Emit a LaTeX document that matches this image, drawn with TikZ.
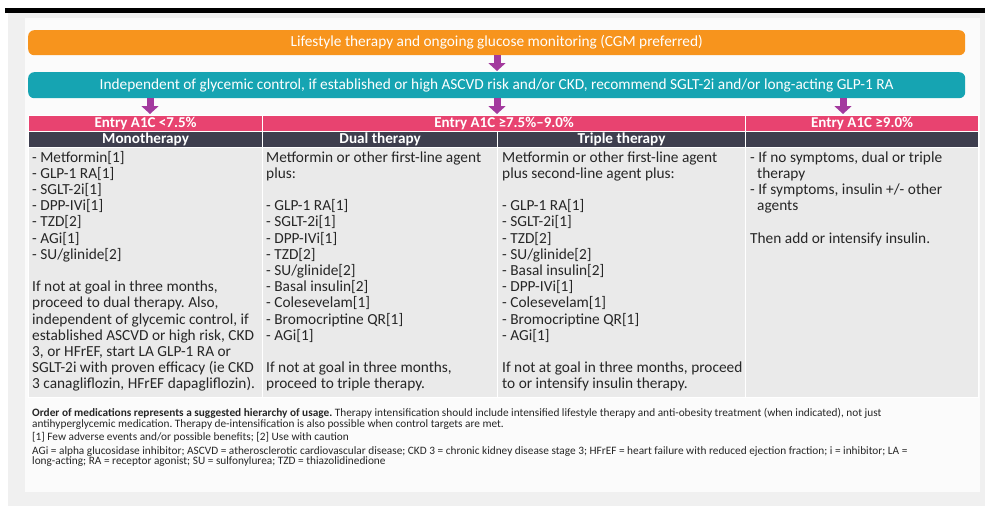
\documentclass[tikz,border=0pt]{standalone}
\usepackage{fontspec}
\setmainfont{Carlito}
\usetikzlibrary{arrows.meta}
\frenchspacing
\definecolor{orng}{RGB}{247,148,29}
\definecolor{tealb}{RGB}{22,164,178}
\definecolor{pinkh}{RGB}{232,67,112}
\definecolor{darkh}{RGB}{62,62,78}
\definecolor{cellbg}{RGB}{234,234,234}
\definecolor{arrowc}{RGB}{163,58,158}
\definecolor{outerbg}{RGB}{240,240,240}
\definecolor{panelbg}{RGB}{251,251,251}
\tikzset{
  bigfont/.style={font=\fontsize{15.35}{16.2}\selectfont\frenchspacing},
  bar/.style={anchor=north west, inner sep=0pt, rounded corners=6pt, text=white, font=\fontsize{15.35}{16}\selectfont},
  cellbox/.style={anchor=north west, inner sep=0pt, draw=white, line width=1.2pt},
  pinkcell/.style={cellbox, fill=pinkh, minimum height=16pt, text=white, font=\fontsize{15}{16}\selectfont\bfseries},
  darkcell/.style={cellbox, fill=darkh, minimum height=16pt, text=white, font=\fontsize{15.2}{16}\selectfont\bfseries},
  bodycell/.style={cellbox, fill=cellbg, minimum height=250pt},
  coltext/.style={anchor=base west, inner sep=0pt, align=left, text width=400pt, bigfont, text=black!85,
    execute at begin node={\spaceskip=0pt\xspaceskip=0pt}},
  foot/.style={anchor=base west, inner sep=0pt, align=left, text width=960pt, font=\fontsize{11.3}{10.4}\selectfont\frenchspacing, text=black!85,
    execute at begin node={\spaceskip=0pt\xspaceskip=0pt}},
  flowarrow/.style={draw=arrowc, line width=7pt, -{Triangle[width=17pt,length=8pt]}, shorten >=1pt},
}
\begin{document}
\begin{tikzpicture}[x=1pt,y=-1pt]
\useasboundingbox (0,0) rectangle (985,506);
\fill[white] (0,0) rectangle (985,506);
\fill[outerbg] (8,12) rectangle (985,506);
\fill[panelbg] (25,18) rectangle (980,492);
\fill[black] (5,8) rectangle (985,12.5);

% top bars
\node[bar, fill=orng, minimum width=937pt, minimum height=25pt] (life) at (28,30)
  {Lifestyle therapy and ongoing glucose monitoring (CGM preferred)};
\node[bar, fill=tealb, minimum width=937pt, minimum height=26pt] (indep) at (28,72)
  {Independent of glycemic control, if established or high ASCVD risk and/or CKD, recommend SGLT-2i and/or long-acting GLP-1 RA};

% entry row
\node[pinkcell, minimum width=234pt] (e1) at (28,115) {Entry A1C <7.5\%};
\node[pinkcell, minimum width=483pt] (e2) at (262,115) {Entry A1C ≥7.5\%–9.0\%};
\node[pinkcell, minimum width=233pt] (e3) at (745,115) {Entry A1C ≥9.0\%};

% therapy row
\node[darkcell, minimum width=234pt] (m1) at (28,131) {Monotherapy};
\node[darkcell, minimum width=235pt] (m2) at (262,131) {Dual therapy};
\node[darkcell, minimum width=248pt] (m3) at (497,131) {Triple therapy};
\node[darkcell, minimum width=233pt] (m4) at (745,131) {};

% body cells
\node[bodycell, minimum width=234pt] (c1) at (28,147) {};
\node[bodycell, minimum width=235pt] (c2) at (262,147) {};
\node[bodycell, minimum width=248pt] (c3) at (497,147) {};
\node[bodycell, minimum width=233pt] (c4) at (745,147) {};

% arrows
\coordinate (xa) at (150,0);
\coordinate (xb) at (497,0);
\coordinate (xc) at (843,0);
\draw[flowarrow] (life.south -| xb) -- (indep.north -| xb);
\draw[flowarrow] (indep.south -| xa) -- (e1.north -| xa);
\draw[flowarrow] (indep.south -| xb) -- (e2.north -| xb);
\draw[flowarrow] (indep.south -| xc) -- (e3.north -| xc);

% column texts
\node[coltext] (t1) at (32,162) {- Metformin[1]\\
- GLP-1 RA[1]\\
- SGLT-2i[1]\\
- DPP-IVi[1]\\
- TZD[2]\\
- AGi[1]\\
- SU/glinide[2]\\
~\\
If not at goal in three months,\\
proceed to dual therapy. Also,\\
independent of glycemic control, if\\
established ASCVD or high risk, CKD\\
3, or HFrEF, start LA GLP-1 RA or\\
SGLT-2i with proven efficacy (ie CKD\\
3 canagliflozin, HFrEF dapagliflozin).};

\node[coltext] (t2) at (266,162) {Metformin or other first-line agent\\
plus:\\
~\\
- GLP-1 RA[1]\\
- SGLT-2i[1]\\
- DPP-IVi[1]\\
- TZD[2]\\
- SU/glinide[2]\\
- Basal insulin[2]\\
- Colesevelam[1]\\
- Bromocriptine QR[1]\\
- AGi[1]\\
~\\
If not at goal in three months,\\
proceed to triple therapy.};

\node[coltext] (t3) at (502,162) {Metformin or other first-line agent\\
plus second-line agent plus:\\
~\\
- GLP-1 RA[1]\\
- SGLT-2i[1]\\
- TZD[2]\\
- SU/glinide[2]\\
- Basal insulin[2]\\
- DPP-IVi[1]\\
- Colesevelam[1]\\
- Bromocriptine QR[1]\\
- AGi[1]\\
~\\
If not at goal in three months, proceed\\
to or intensify insulin therapy.};

\node[coltext] (t4) at (750,162) {- If no symptoms, dual or triple\\
\hspace*{7pt}therapy\\
- If symptoms, insulin +/- other\\
\hspace*{7pt}agents\\
~\\
Then add or intensify insulin.};

% footnotes
\node[foot] (f1) at (32,416.8) {\textbf{Order of medications represents a suggested hierarchy of usage.} Therapy intensification should include intensified lifestyle therapy and anti-obesity treatment (when indicated), not just\\
antihyperglycemic medication. Therapy de-intensification is also possible when control targets are met.};
\node[foot] (f2) at (32,440.5) {[1] Few adverse events and/or possible benefits; [2] Use with caution};
\node[foot] (f3) at (32,454.5) {AGi = alpha glucosidase inhibitor; ASCVD = atherosclerotic cardiovascular disease; CKD 3 = chronic kidney disease stage 3; HFrEF = heart failure with reduced ejection fraction; i = inhibitor; LA =\\
long-acting; RA = receptor agonist; SU = sulfonylurea; TZD = thiazolidinedione};
\end{tikzpicture}
\end{document}
